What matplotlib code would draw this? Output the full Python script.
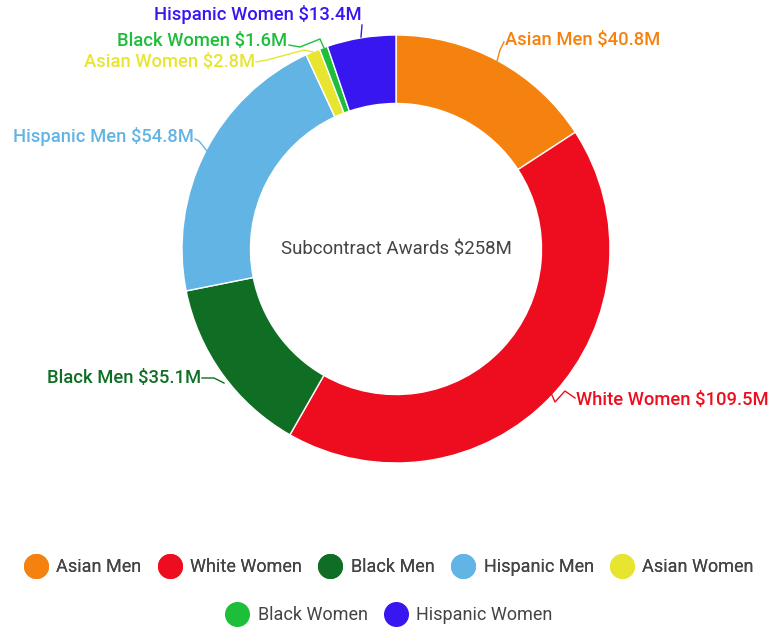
import matplotlib.pyplot as plt
from matplotlib.lines import Line2D

plt.rcParams['font.family'] = ['Roboto', 'DejaVu Sans']

# data
groups = ['Asian Men', 'White Women', 'Black Men', 'Hispanic Men',
          'Asian Women', 'Black Women', 'Hispanic Women']
awards = [40.8, 109.5, 35.1, 54.8, 2.8, 1.6, 13.4]
colors = ['#F5820F', '#EE0D1F', '#0F6E24', '#62B4E4',
          '#E8E531', '#1DBE3A', '#3716F0']
total_label = 'Subcontract Awards $258M'

W, H = 771, 629
fig = plt.figure(figsize=(W / 100, H / 100), dpi=100)
ax = fig.add_axes([0, 0, 1, 1])

cx, cy, R = 396, 249, 214

# with the y axis flipped, counterclock=True runs clockwise on screen
wedges, _ = ax.pie(awards, colors=colors, startangle=-90, counterclock=True,
                   center=(cx, cy), radius=R, frame=True,
                   wedgeprops=dict(width=R * 0.32, edgecolor='white', linewidth=1))
ax.set_xlim(0, W)
ax.set_ylim(H, 0)
ax.set_aspect('equal')
ax.axis('off')

ax.text(cx, cy + 1, total_label, ha='center', va='center', fontsize=13.4, color='#444444')

# label text positions and leader paths (pixel layout)
label_pos = {
    'Asian Men': (505, 40, 'left', [(497, 61), (500, 50), (504, 42)]),
    'White Women': (576, 400, 'left', [(551, 393), (555, 402), (565, 391), (575, 398)]),
    'Black Men': (201, 378, 'right', [(224, 383), (214, 378), (202, 378)]),
    'Hispanic Men': (194, 137, 'right', [(207, 151), (199, 141), (195, 139)]),
    'Asian Women': (255, 62, 'right', [(313, 52), (304, 50), (267, 60), (256, 62)]),
    'Black Women': (287, 41, 'right', [(324, 48), (320, 39), (300, 47), (289, 45)]),
    'Hispanic Women': (362, 15, 'right', [(361, 37), (362, 25)]),
}
for g, v, c in zip(groups, awards, colors):
    x, y, ha, path = label_pos[g]
    ax.plot([p[0] for p in path], [p[1] for p in path], color=c, lw=1)
    ax.text(x, y, f'{g} ${v}M', ha=ha, va='center', fontsize=13.2,
            fontweight='medium', color=c)

handles = [Line2D([], [], marker='o', linestyle='', markersize=17,
                  markerfacecolor=c, markeredgecolor=c) for c in colors]
leg_kw = dict(loc='center', frameon=False, fontsize=13, handletextpad=0.55,
              columnspacing=0.95, labelcolor='#444444', handlelength=1.2)
leg1 = fig.legend(handles[:5], groups[:5], ncol=5,
                  bbox_to_anchor=(0.505, 1 - 567 / H), **leg_kw)
leg2 = fig.legend(handles[5:], groups[5:], ncol=2,
                  bbox_to_anchor=(0.505, 1 - 615 / H), **leg_kw)
fig.add_artist(leg1)

fig.savefig('out.png', dpi=100)
